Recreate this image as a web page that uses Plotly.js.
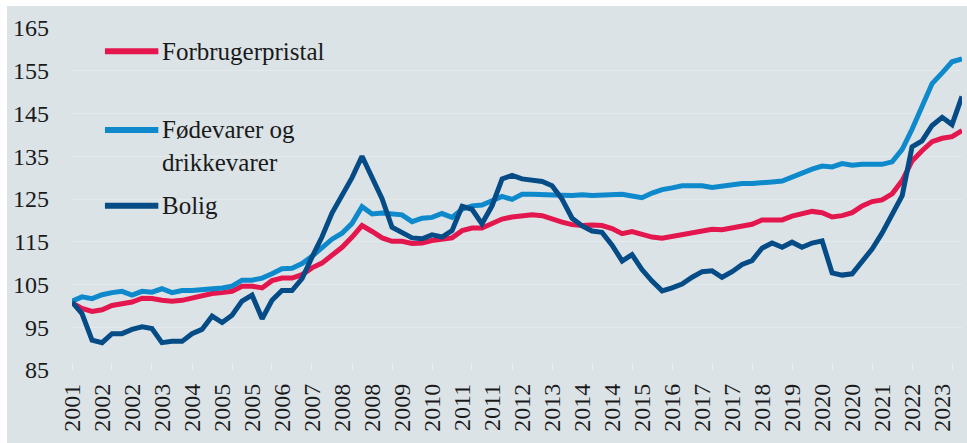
<!DOCTYPE html>
<html><head><meta charset="utf-8">
<script src="https://cdn.plot.ly/plotly-3.0.1.min.js"></script>
<style>html,body{margin:0;padding:0;background:#ffffff}#chart{position:absolute;left:7px;top:6px;width:960px;height:437px}</style>
</head><body><div id="chart"></div>
<script>
const quarters = ['2001-04','2001-07','2001-10',
'2002-01','2002-04','2002-07','2002-10','2003-01','2003-04','2003-07','2003-10',
'2004-01','2004-04','2004-07','2004-10','2005-01','2005-04','2005-07','2005-10',
'2006-01','2006-04','2006-07','2006-10','2007-01','2007-04','2007-07','2007-10',
'2008-01','2008-04','2008-07','2008-10','2009-01','2009-04','2009-07','2009-10',
'2010-01','2010-04','2010-07','2010-10','2011-01','2011-04','2011-07','2011-10',
'2012-01','2012-04','2012-07','2012-10','2013-01','2013-04','2013-07','2013-10',
'2014-01','2014-04','2014-07','2014-10','2015-01','2015-04','2015-07','2015-10',
'2016-01','2016-04','2016-07','2016-10','2017-01','2017-04','2017-07','2017-10',
'2018-01','2018-04','2018-07','2018-10','2019-01','2019-04','2019-07','2019-10',
'2020-01','2020-04','2020-07','2020-10','2021-01','2021-04','2021-07','2021-10',
'2022-01','2022-04','2022-07','2022-10','2023-01','2023-04','2023-07'];

const tickLabels = ['2001','2002','2002','2003','2004','2005','2005','2006','2007','2008',
'2008','2009','2010','2011','2011','2012','2013','2014','2014','2015',
'2016','2017','2017','2018','2019','2020','2020','2021','2022','2023'];

const seriesNames = ['Forbrugerpristal', 'Fødevarer og<br>drikkevarer', 'Bolig'];

const forbrugerpristal = [100.7,99.4,98.7,99.1,100.1,100.5,100.9,101.8,101.7,101.3,
101.1,101.3,101.9,102.3,102.9,103.1,103.4,104.6,104.6,104.2,
105.9,106.5,106.5,107.3,108.9,110.0,112.0,113.7,116.1,118.8,
117.4,115.9,115.1,115.1,114.6,114.7,115.3,115.7,115.9,117.6,
118.2,118.2,119.4,120.3,120.8,121.1,121.3,121.1,120.3,119.6,
119.0,118.8,118.9,118.8,118.1,116.9,117.4,116.7,116.1,115.8,
116.2,116.7,117.1,117.3,117.9,117.8,118.2,118.5,119.1,120.1,
120.2,120.1,121.0,121.4,122.1,121.8,120.8,121.1,121.8,123.4,
124.4,124.8,126.2,129.3,133.9,136.3,138.4,139.2,139.6,141.0];

const foedevarer = [101.1,102.1,101.7,102.6,103.1,103.4,102.5,103.4,103.2,104.0,
103.1,103.6,103.6,103.8,103.9,104.2,104.6,106.0,106.0,106.5,
107.5,108.7,108.8,109.9,111.6,113.7,115.6,117.0,119.3,123.2,
121.5,121.7,121.5,121.3,119.7,120.5,120.7,121.6,120.7,122.6,
123.4,123.6,124.6,125.6,124.9,126.1,126.1,126.1,126.1,125.9,
125.8,126.0,125.8,125.9,125.9,126.1,125.7,125.3,126.4,127.2,
127.6,128.1,128.1,128.1,127.7,128.0,128.4,128.6,128.6,128.9,
129.0,129.2,130.2,131.1,132.0,132.7,132.5,133.3,132.9,133.1,
133.1,133.1,133.7,136.6,141.3,146.3,152.0,154.5,157.1,157.8];

const bolig = [100.9,98.2,92.0,91.4,93.5,93.5,94.5,95.1,94.7,91.4,
91.7,91.7,93.5,94.5,97.6,96.1,97.8,101.1,102.5,97.0,
101.3,103.6,103.6,106.4,111.4,116.1,121.7,125.7,130.0,135.0,
130.0,125.0,118.4,117.2,115.9,115.7,116.6,116.1,117.6,123.3,
122.6,119.2,123.4,129.7,130.5,129.7,129.4,129.1,128.1,125.0,
120.5,118.7,117.5,117.2,114.2,110.5,112.0,108.5,105.8,103.5,
104.2,105.1,106.7,108.0,108.2,106.7,108.0,109.7,110.6,113.5,
114.7,113.7,114.9,113.7,114.7,115.2,107.7,107.2,107.5,110.4,
113.3,117.0,121.2,125.8,137.2,138.6,142.2,144.1,142.4,149.0];

const colors = ['#e3174d', '#0d89cc', '#054c87'];
const seriesData = [forbrugerpristal, foedevarer, bolig];

const traces = seriesData.map((vals, k) => ({
  type: 'scatter', mode: 'lines', x: quarters, y: vals,
  name: seriesNames[k].replace('<br>', ' '),
  line: {color: colors[k], width: 5, shape: 'linear'},
  hoverinfo: 'skip', showlegend: false
}));

const tickVals = quarters.filter((q, k) => k % 3 === 0);
const yearMarks = quarters.filter((q, k) => k % 4 === 0);

// manual legend (paper coordinates of plot area)
const legendY = [0.932, 0.702, 0.480];
const shapes = [];
const annotations = [];
seriesNames.forEach((nm, k) => {
  shapes.push({type: 'line', xref: 'paper', yref: 'paper', x0: 0.037, x1: 0.097,
    y0: legendY[k], y1: legendY[k], line: {color: colors[k], width: 6}});
  annotations.push({xref: 'paper', yref: 'paper', x: 0.099, y: k === 1 ? legendY[k] + 0.047 : legendY[k],
    xanchor: 'left', yanchor: k === 1 ? 'top' : 'middle', text: nm, showarrow: false, align: 'left',
    font: {family: 'Liberation Serif, serif', size: 25, color: '#1a1a1a'}});
});

const layout = {
  width: 960, height: 437,
  margin: {l: 65, r: 5, t: 22, b: 73},
  paper_bgcolor: '#dbe3e7', plot_bgcolor: '#dbe3e7',
  font: {family: 'Liberation Serif, serif', size: 24, color: '#1a1a1a'},
  showlegend: false,
  xaxis: {
    type: 'date', range: [quarters[0], quarters[quarters.length - 1]],
    tickmode: 'array', tickvals: tickVals, ticktext: tickLabels,
    tickangle: -90, ticks: '', showgrid: false, zeroline: false, showline: false,
    ticklabelstandoff: 8,
    tickfont: {family: 'Liberation Serif, serif', size: 24, color: '#1a1a1a'},
    minor: {tickmode: 'array', tickvals: yearMarks, ticks: 'inside', ticklen: 7,
      tickwidth: 1, tickcolor: '#e9eef1', showgrid: false}
  },
  yaxis: {
    range: [85, 165], tick0: 85, dtick: 10, tickmode: 'linear',
    showgrid: true, gridcolor: '#e4e9ec', gridwidth: 1,
    zeroline: false, showline: false, ticks: '',
    ticklabelstandoff: 22,
    tickfont: {family: 'Liberation Serif, serif', size: 24, color: '#1a1a1a'}
  },
  shapes: shapes,
  annotations: annotations
};

Plotly.newPlot('chart', traces, layout, {staticPlot: true, displayModeBar: false});
</script>
</body></html>
